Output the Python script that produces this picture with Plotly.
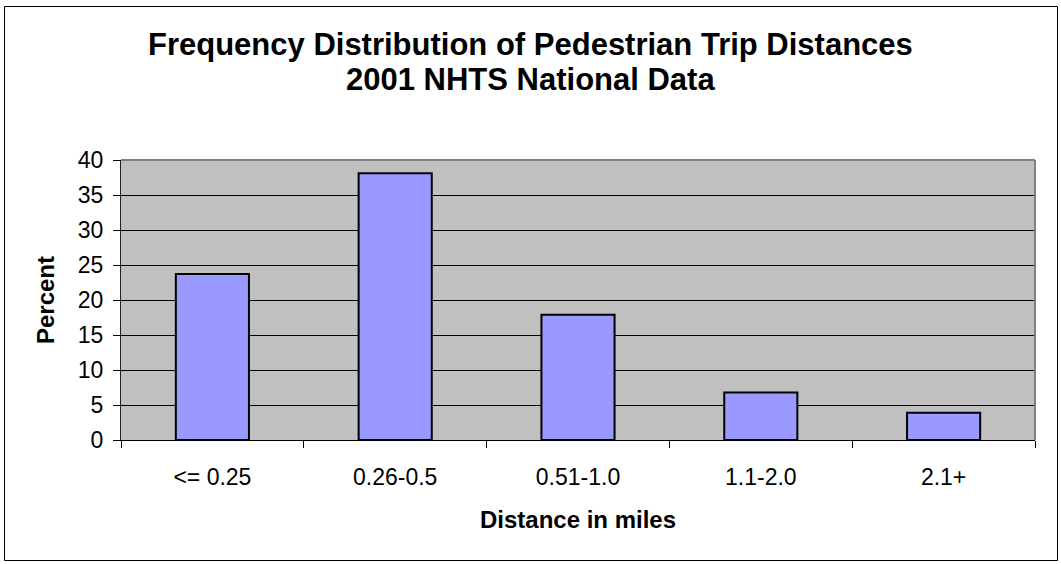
import plotly.graph_objects as go

# Pedestrian trip distance bins and share of trips (percent)
categories = ["<= 0.25", "0.26-0.5", "0.51-1.0", "1.1-2.0", "2.1+"]
percent = [23.7, 38.1, 17.9, 6.8, 3.9]
y_ticks = [0, 5, 10, 15, 20, 25, 30, 35, 40]
title_lines = ["Frequency Distribution of Pedestrian Trip Distances", "2001 NHTS National Data"]

W, H = 1061, 564
ML, MR, MT, MB = 121, 26, 160, 124
PW, PH = W - ML - MR, H - MT - MB

FONT = "Liberation Sans, Arial, sans-serif"

fig = go.Figure()
fig.add_trace(go.Bar(
    x=categories,
    y=percent,
    marker=dict(color="#9999FF", line=dict(color="black", width=2)),
    hoverinfo="x+y",
))


def px_x(v):
    return (v - ML) / PW


def px_y(v):
    return (H - MB - v) / PH


# two-line bold chart title, centred on the chart
annotations = []
for text, cy in zip(title_lines, [45, 80]):
    annotations.append(dict(
        text=f"<b>{text}</b>", xref="paper", yref="paper",
        x=px_x(W / 2), y=px_y(cy), xanchor="center", yanchor="middle",
        showarrow=False, font=dict(family=FONT, size=31, color="black"),
    ))

fig.update_layout(
    width=W,
    height=H,
    margin=dict(l=ML, r=MR, t=MT, b=MB),
    paper_bgcolor="white",
    plot_bgcolor="#C0C0C0",
    bargap=0.6,
    showlegend=False,
    font=dict(family=FONT, color="black"),
    annotations=annotations,
    xaxis=dict(
        type="category",
        tickson="boundaries",
        ticks="outside",
        ticklen=7,
        tickcolor="black",
        tickwidth=1,
        ticklabelstandoff=16,
        showline=True,
        linecolor="black",
        linewidth=1,
        showgrid=False,
        tickfont=dict(size=23, family=FONT, color="black"),
        title=dict(text="<b>Distance in miles</b>", font=dict(size=24, family=FONT, color="black"), standoff=22),
    ),
    yaxis=dict(
        range=[0, 40],
        tickmode="array",
        tickvals=y_ticks,
        ticktext=[str(v) for v in y_ticks],
        ticks="outside",
        ticklen=7,
        tickcolor="black",
        tickwidth=1,
        ticklabelstandoff=5,
        showline=True,
        linecolor="#202020",
        linewidth=1,
        showgrid=True,
        gridcolor="black",
        gridwidth=1,
        zeroline=False,
        tickfont=dict(size=23, family=FONT, color="black"),
        title=dict(text="<b>Percent</b>", font=dict(size=24, family=FONT, color="black"), standoff=16),
    ),
    shapes=[
        # gray top and right edges of the plot area
        dict(type="line", xref="paper", yref="paper", x0=0, x1=1, y0=1, y1=1,
             line=dict(color="#808080", width=2), layer="above"),
        dict(type="line", xref="paper", yref="paper", x0=1, x1=1, y0=0, y1=1,
             line=dict(color="#808080", width=2), layer="above"),
        # thin frame around the whole chart
        dict(type="rect", xref="paper", yref="paper",
             x0=px_x(4.5), x1=px_x(1057.5), y0=px_y(560.5), y1=px_y(6.5),
             line=dict(color="black", width=1), fillcolor="rgba(0,0,0,0)", layer="above"),
    ],
)

fig.write_html("out.html")
